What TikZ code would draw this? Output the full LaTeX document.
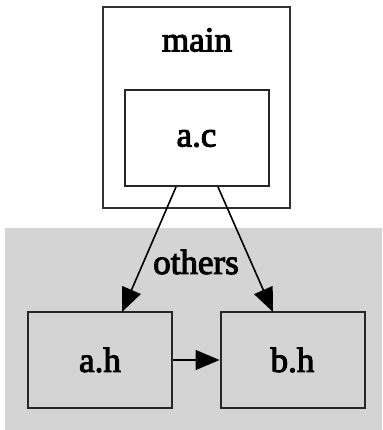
\documentclass[tikz,border=0pt]{standalone}
\usepackage{fontspec}
\setmainfont{Liberation Serif}
\newfontfamily\labfont[FakeBold=3]{Liberation Serif}
\usetikzlibrary{arrows.meta}
\begin{document}
\begin{tikzpicture}[x=1pt,y=-1pt,
  box/.style={draw=black!85,line width=2pt,minimum width=144pt,minimum height=96pt,inner sep=0pt,font=\labfont\fontsize{35}{40}\selectfont},
  lbl/.style={font=\labfont\fontsize{35}{40}\selectfont,inner sep=0pt},
  edge/.style={line width=1.6pt,-{Triangle[length=24pt,width=20pt]}}]
\useasboundingbox (0,0) rectangle (382,430);
\fill[white] (0,0) rectangle (382,430);
% others cluster
\fill[black!17] (5,228) rectangle (382,430);
% main cluster
\draw[draw=black!80,line width=2.4pt] (103,7) rectangle (290,208);
\node[lbl] (mainl) at (197,40) {main};
\node[lbl] (othersl) at (196,262) {others};
\node[box,fill=white] (ac) at (196.5,138.5) {a.c};
\node[box] (ah) at (100,360) {a.h};
\node[box] (bh) at (292.5,360) {b.h};
\coordinate (ac1) at (176,187);
\coordinate (ac2) at (218,187);
\coordinate (ah1) at (122,312);
\coordinate (bh1) at (273,312);
\draw[edge] (ac1) -- (ah1);
\draw[edge] (ac2) -- (bh1);
\draw[edge] (ah.east) -- (bh.west);
\end{tikzpicture}
\end{document}
